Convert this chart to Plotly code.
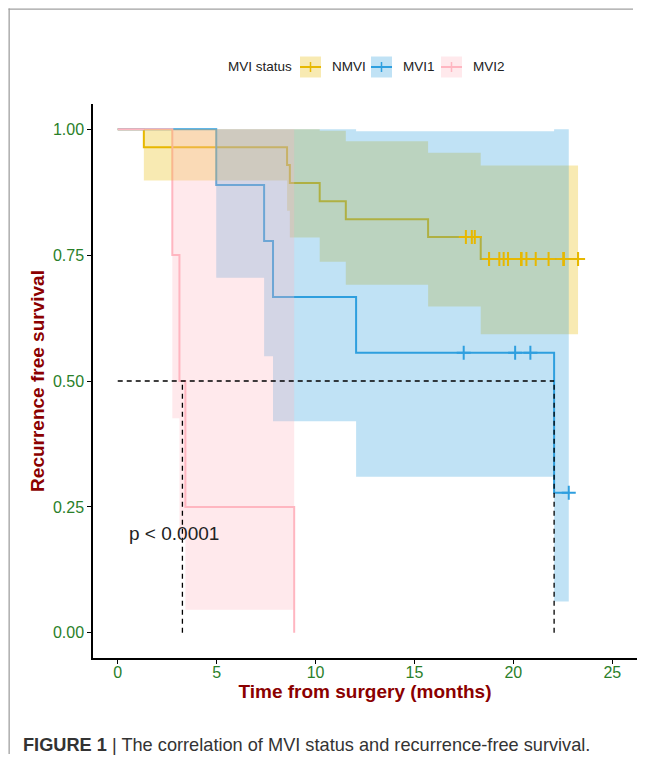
import plotly.graph_objects as go

# ---------------- data ----------------
group_names = ["NMVI", "MVI1", "MVI2"]
group_colors = ["#E7B800", "#2E9FDF", "#FFB6C1"]
group_fills = ["rgba(231,184,0,0.3)", "rgba(46,159,223,0.3)", "rgba(255,182,193,0.3)"]
legend_title = "MVI status"

# Kaplan-Meier steps
nmvi_time = [0, 1.32, 8.56, 8.70, 10.21, 11.53, 15.69, 18.35, 23.27]
nmvi_surv = [1.0, 0.964, 0.929, 0.893, 0.857, 0.821, 0.786, 0.742, 0.742]
mvi1_time = [0, 4.98, 7.40, 7.85, 12.05, 22.06, 22.80]
mvi1_surv = [1.0, 0.889, 0.778, 0.667, 0.556, 0.278, 0.278]
mvi2_time = [0, 2.76, 3.12, 3.42, 8.92]
mvi2_surv = [1.0, 0.75, 0.50, 0.25, 0.0]

# confidence bands (interval starts, last end, upper, lower)
nmvi_ci_start = [1.32, 8.56, 8.70, 10.21, 11.53, 15.69, 18.35]
nmvi_ci_end = 23.27
nmvi_upper = [1.0, 1.0, 1.0, 0.997, 0.976, 0.953, 0.928]
nmvi_lower = [0.898, 0.838, 0.785, 0.737, 0.691, 0.648, 0.593]
mvi1_ci_start = [4.98, 7.40, 7.85, 12.05, 22.06]
mvi1_ci_end = 22.80
mvi1_upper = [1.0, 1.0, 1.0, 0.996, 1.0]
mvi1_lower = [0.705, 0.549, 0.420, 0.310, 0.062]
mvi2_ci_start = [2.76, 3.12, 3.42]
mvi2_ci_end = 8.92
mvi2_upper = [1.0, 1.0, 1.0]
mvi2_lower = [0.426, 0.188, 0.046]

# censored times
nmvi_censor = [17.60, 17.90, 18.05, 18.77, 18.77, 18.77, 19.29, 19.51, 19.73,
               20.40, 20.40, 20.40, 20.66, 21.13, 21.78, 22.54, 22.54, 22.54,
               23.27, 23.27]
mvi1_censor = [17.49, 20.09, 20.86, 22.80]
mvi2_censor = []

# median survival lines
median_level = 0.5
median_times = [3.27, 22.06]

x_ticks = [0, 5, 10, 15, 20, 25]
y_ticks = [0.0, 0.25, 0.50, 0.75, 1.00]
pval_text = "p < 0.0001"
caption_bold = "FIGURE 1"
caption_text = " | The correlation of MVI status and recurrence-free survival."

# ---------------- helpers ----------------
def surv_at(times, survs, t):
    val = survs[0]
    for ti, si in zip(times, survs):
        if ti <= t:
            val = si
    return val

def band_polygon(starts, end, upper, lower):
    n = len(starts)
    ends = starts[1:] + [end]
    xs, ys = [], []
    for i in range(n):
        xs += [starts[i], ends[i]]
        ys += [upper[i], upper[i]]
    for i in reversed(range(n)):
        xs += [ends[i], starts[i]]
        ys += [lower[i], lower[i]]
    xs.append(starts[0]); ys.append(upper[0])
    return xs, ys

curves = [
    (nmvi_time, nmvi_surv, nmvi_ci_start, nmvi_ci_end, nmvi_upper, nmvi_lower, nmvi_censor),
    (mvi1_time, mvi1_surv, mvi1_ci_start, mvi1_ci_end, mvi1_upper, mvi1_lower, mvi1_censor),
    (mvi2_time, mvi2_surv, mvi2_ci_start, mvi2_ci_end, mvi2_upper, mvi2_lower, mvi2_censor),
]

fig = go.Figure()
FONT = "Liberation Sans, Arial, Helvetica, sans-serif"

# step lines
for (t, s, *_), name, col in zip(curves, group_names, group_colors):
    fig.add_trace(go.Scatter(x=t, y=s, mode="lines", line=dict(color=col, width=2, shape="hv"),
                             name=name, showlegend=False, hoverinfo="skip"))
# confidence ribbons
for (t, s, cs, ce, up, lo, cen), name, fc in zip(curves, group_names, group_fills):
    bx, by = band_polygon(cs, ce, up, lo)
    fig.add_trace(go.Scatter(x=bx, y=by, mode="none", fill="toself", fillcolor=fc,
                             name=name, showlegend=False, hoverinfo="skip"))
# censor marks
for (t, s, cs, ce, up, lo, cen), name, col in zip(curves, group_names, group_colors):
    if not cen:
        continue
    fig.add_trace(go.Scatter(x=cen, y=[surv_at(t, s, c) for c in cen], mode="markers",
                             marker=dict(symbol="cross-thin", size=10, color=col,
                                         line=dict(color=col, width=2)),
                             name=name, showlegend=False, hoverinfo="skip"))
# median lines
fig.add_trace(go.Scatter(x=[0, max(median_times)], y=[median_level, median_level], mode="lines",
                         line=dict(color="black", width=1.3, dash="5px,4px"),
                         showlegend=False, hoverinfo="skip"))
for mt in median_times:
    fig.add_trace(go.Scatter(x=[mt, mt], y=[0, median_level], mode="lines",
                             line=dict(color="black", width=1.3, dash="5px,4px"),
                             showlegend=False, hoverinfo="skip"))

# ---------------- layout geometry ----------------
# the page adds an 8px body margin; coordinates below are page pixels
OFF = 8
W, H = 633, 748
PL, PR, PT, PB = 93, 637, 104, 658          # plot area in page pixels
pw, ph = PR - PL, PB - PT
L, T = PL - OFF, PT - OFF
R, B = W - (PR - OFF), H - (PB - OFF)

def px_x(px):
    return (px - PL) / pw
def px_y(py):
    return (PB - py) / ph

fig.add_annotation(x=0.49, y=0.198, xref="x", yref="y", text=pval_text, showarrow=False,
                   xanchor="left", yanchor="middle", font=dict(family=FONT, size=19, color="#222222"))
fig.add_annotation(x=px_x(21), y=px_y(745), xref="paper", yref="paper",
                   text="<b>" + caption_bold + "</b>" + caption_text, showarrow=False,
                   xanchor="left", yanchor="middle", font=dict(family=FONT, size=18.2, color="#333333"))

# frame border (top and left) as thin filled bars, kept inside the figure
fig.add_shape(type="rect", xref="paper", yref="paper", x0=px_x(8.5), x1=px_x(633),
              y0=px_y(8.5), y1=px_y(9.8), fillcolor="#a0a0a0", line=dict(width=0), layer="above")
fig.add_shape(type="rect", xref="paper", yref="paper", x0=px_x(8.5), x1=px_x(9.8),
              y0=px_y(8.5), y1=px_y(754), fillcolor="#a0a0a0", line=dict(width=0), layer="above")

# legend (drawn as keys + text)
leg_font = dict(family=FONT, size=13.5, color="#222222")
leg_cy = 67
fig.add_annotation(x=px_x(226), y=px_y(leg_cy), xref="paper", yref="paper", text=legend_title,
                   showarrow=False, xanchor="left", yanchor="middle", font=leg_font)
key_left = [300, 371, 441]
text_left = [330, 401, 471]
for name, col, fc, kx, tx in zip(group_names, group_colors, group_fills, key_left, text_left):
    fig.add_shape(type="rect", xref="paper", yref="paper", x0=px_x(kx), x1=px_x(kx + 21),
                  y0=px_y(leg_cy - 10.5), y1=px_y(leg_cy + 10.5), fillcolor=fc, line=dict(width=0))
    fig.add_shape(type="line", xref="paper", yref="paper", x0=px_x(kx), x1=px_x(kx + 21),
                  y0=px_y(leg_cy), y1=px_y(leg_cy), line=dict(color=col, width=2))
    fig.add_shape(type="line", xref="paper", yref="paper", x0=px_x(kx + 10.5), x1=px_x(kx + 10.5),
                  y0=px_y(leg_cy - 5), y1=px_y(leg_cy + 5), line=dict(color=col, width=1.5))
    fig.add_annotation(x=px_x(tx), y=px_y(leg_cy), xref="paper", yref="paper", text=name,
                       showarrow=False, xanchor="left", yanchor="middle", font=leg_font)

axis_title_font = dict(family=FONT, size=19, color="#8B0000")
tick_font = dict(family=FONT, size=16, color="#2a7f2a")

fig.update_layout(
    width=W, height=H,
    margin=dict(l=L, r=R, t=T, b=B, autoexpand=False),
    paper_bgcolor="white", plot_bgcolor="white",
    font=dict(family=FONT, color="black"),
    showlegend=False,
    xaxis=dict(range=[-1.25, 26.25], tickvals=x_ticks, ticktext=[str(v) for v in x_ticks],
               showgrid=False, zeroline=False, showline=True, linecolor="black", linewidth=1.5,
               ticks="outside", ticklen=4, tickwidth=1.2, tickcolor="black", tickfont=tick_font,
               ticklabelstandoff=-5,
               title=dict(text="<b>Time from surgery (months)</b>", font=axis_title_font, standoff=0)),
    yaxis=dict(range=[-0.05, 1.05], tickvals=y_ticks, ticktext=["%.2f" % v for v in y_ticks],
               showgrid=False, zeroline=False, showline=True, linecolor="black", linewidth=1.5,
               ticks="outside", ticklen=4, tickwidth=1.2, tickcolor="black", tickfont=tick_font,
               title=dict(text="<b>Recurrence free survival</b>", font=axis_title_font, standoff=3)),
)

fig.write_html("out.html")
